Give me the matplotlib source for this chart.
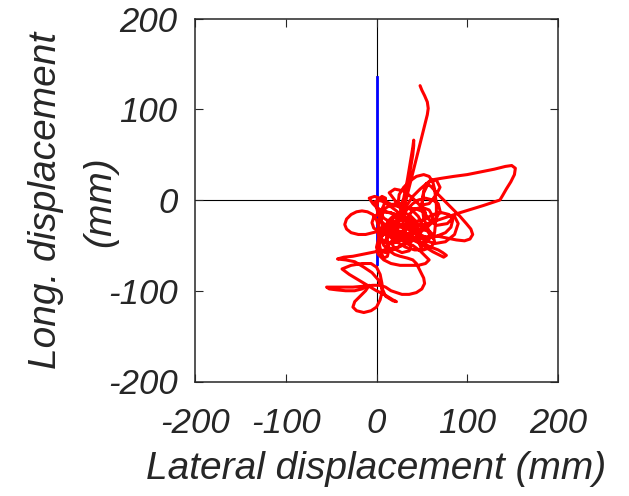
import matplotlib
matplotlib.use("Agg")
import matplotlib.pyplot as plt

# Centre-of-pressure trace as (lateral, longitudinal) samples, mm
trace_mm = [
    # descent from the upper end
    (48, 126), (50, 121), (53, 115), (56, 108), (57, 101), (56, 94), (54, 86), (52, 78),
    (50, 70), (48, 62), (46, 54), (44, 46), (42, 38), (40, 30), (38, 22), (36, 14),
    (34, 6), (32, -2), (29, -10), (25, -18), (20, -25), (14, -30), (8, -33), (2, -34),
    (-3, -31), (-5, -25), (-3, -19), (2, -15), (9, -13), (16, -14), (22, -17),
    (27, -12), (30, -4), (32, 5), (34, 15), (36, 26), (38, 38), (40, 50), (41, 60),
    (41, 66), (40, 58), (38, 46), (36, 34), (34, 22), (32, 12), (30, 2), (27, -6),
    # upper loop
    (24, -2), (25, 6), (30, 14), (37, 21), (44, 26), (52, 28), (58, 26), (62, 20),
    (64, 12), (65, 4), (66, -6), (66, -16), (65, -26), (64, -36), (62, -42),
    # excursion to the right
    (58, -35), (52, -20), (50, -5), (52, 10), (55, 18), (60, 22), (72, 24), (85, 26),
    (100, 28), (115, 31), (130, 34), (142, 37), (149, 38), (153, 35), (152, 28), (148, 20),
    (143, 12), (139, 5), (136, 0), (130, -2), (118, -6), (105, -10), (92, -14), (80, -18),
    (68, -22), (56, -26), (44, -29), (34, -31),
    (30, -28), (28, -20), (32, -8), (40, 4), (48, 12), (55, 18), (60, 15), (68, 6),
    (76, -2), (84, -10), (92, -18), (99, -26), (104, -32), (106, -38), (103, -43), (97, -45),
    (88, -44), (78, -42), (68, -40),
    # central tangle
    (58, -40), (48, -42), (38, -45), (28, -50), (18, -55), (10, -58), (4, -56), (2, -50),
    (4, -42), (10, -35), (18, -30), (28, -27), (38, -26), (48, -28), (56, -32), (62, -38),
    (64, -46), (60, -52), (52, -55), (42, -55), (32, -52), (22, -46), (14, -40), (8, -32),
    (5, -24), (6, -16), (10, -9), (16, -5), (24, -4), (32, -7), (40, -12), (46, -18),
    (50, -26), (50, -34), (46, -40), (38, -43), (28, -43), (18, -40), (10, -36), (3, -30),
    (0, -22),
    # left loop
    (-4, -16), (-10, -13), (-16, -12), (-22, -13), (-28, -16), (-33, -21), (-35, -27), (-33, -32),
    (-28, -36), (-20, -38), (-12, -38), (-4, -36), (4, -34), (12, -33), (20, -34), (28, -37),
    (36, -40), (44, -44), (52, -48), (60, -52), (68, -55), (73, -58), (77, -61), (74, -63),
    (68, -60), (62, -57),
    (54, -52), (46, -46), (40, -40), (36, -32), (34, -24), (36, -16), (42, -10), (50, -8),
    (58, -11), (62, -18), (60, -26), (54, -32), (46, -34), (38, -32), (30, -28), (22, -26),
    (14, -26), (8, -28), (4, -34), (4, -42), (8, -50), (14, -56), (20, -60), (26, -62),
    (34, -64), (40, -66), (44, -70), (48, -78), (52, -86), (53, -92), (50, -98), (44, -102),
    (36, -104), (28, -104), (22, -102),
    # lower-left sweeps
    (16, -100), (10, -96), (4, -94), (-4, -94), (-14, -95), (-26, -96), (-38, -96), (-48, -96),
    (-55, -96), (-52, -98), (-44, -99), (-34, -100), (-24, -100), (-16, -98), (-8, -94),
    (-12, -100), (-18, -106), (-24, -112), (-26, -118), (-22, -122), (-14, -124), (-6, -122), (0, -118),
    (4, -110), (6, -102), (6, -92), (4, -82), (0, -74),
    (-6, -70), (-16, -70), (-28, -72), (-38, -76), (-30, -82), (-20, -88), (-10, -94), (0, -100),
    (10, -105), (18, -110), (22, -112), (18, -111), (10, -106),
    (2, -88), (-5, -80), (-14, -74), (-24, -68), (-34, -66), (-43, -65), (-36, -63), (-26, -62),
    (-16, -60), (-6, -58), (4, -56), (14, -54), (24, -52),
    # back through the middle
    (32, -48), (40, -50), (48, -56), (54, -62), (58, -66), (54, -70), (46, -72), (36, -72),
    (26, -72), (16, -70), (8, -66), (2, -60), (0, -52), (2, -44), (8, -38), (16, -34),
    (24, -34), (32, -36), (40, -40), (46, -46), (50, -54),
    (46, -40), (38, -30), (30, -20), (22, -12), (14, -6), (8, -2), (2, 0), (-2, -2),
    (0, -8), (6, -12), (14, -14), (22, -16), (30, -18), (38, -22), (44, -26), (52, -28),
    (60, -26), (66, -20), (70, -12), (68, -4), (62, 0), (54, 2), (46, 0), (40, -4),
    (34, -10), (28, -18), (24, -26), (22, -34), (24, -42), (30, -46), (38, -46), (44, -42),
    (46, -34), (42, -26), (36, -22), (28, -22), (20, -24), (12, -28), (6, -34), (4, -40),
    (8, -46), (16, -48), (24, -46), (30, -40), (32, -34), (28, -30), (20, -30),
    (12, -30), (6, -24), (2, -16), (0, -8), (2, 0), (6, 4), (10, 2), (8, -6),
    (4, -14), (2, -26), (2, -38), (3, -48), (5, -58), (8, -64), (12, -62), (14, -54),
    (12, -44), (10, -34), (12, -24), (18, -18),
    (28, -20), (40, -24), (52, -22), (62, -16), (72, -14), (80, -16), (84, -22), (82, -30),
    (76, -36), (66, -40), (56, -42), (48, -38),
    # small loops in the core
    (40, -34), (32, -40), (24, -38), (18, -32), (16, -24), (20, -18), (28, -14), (36, -16),
    (42, -22), (44, -30), (40, -38), (34, -42), (26, -44), (18, -46), (12, -50), (10, -44),
    (14, -38), (22, -36), (30, -34), (36, -28), (34, -20), (26, -16), (18, -20), (14, -28),
    (16, -36), (24, -40), (32, -44), (38, -50), (36, -56), (28, -58), (20, -54), (16, -46),
    (20, -42), (30, -42), (40, -44), (48, -48), (56, -46), (60, -40), (56, -34), (48, -32),
    (40, -30), (34, -26),
    # last wander above the core
    (28, -12), (20, 0), (14, 8), (20, 12), (30, 10), (40, 2), (48, -6), (58, -4),
    (66, 6), (70, 14), (66, 22), (58, 20), (52, 8), (50, -6), (56, -20), (66, -28),
    (78, -26), (86, -18), (90, -26), (86, -38), (76, -46), (64, -48), (52, -44), (42, -36),
    (30, -30), (18, -26), (8, -20), (2, -10), (-4, -4), (-8, 2), (-2, 4), (8, 0),
    (18, -6), (30, -8), (44, -10), (54, -14),
]
lat_mm = [p[0] for p in trace_mm]
long_mm = [p[1] for p in trace_mm]

# Reference stance line along the longitudinal axis, mm
ref_lat_mm = [0, 0]
ref_long_mm = [-70, 136]

ticks = [-200, -100, 0, 100, 200]
text_col = "#262626"

plt.rcParams["font.family"] = ["Liberation Sans", "DejaVu Sans"]

fig = plt.figure(figsize=(6.29, 4.96), dpi=100)
ax = fig.add_axes([195 / 629, 1 - 381.5 / 496, 363 / 629, 363 / 496])

ax.axhline(0, color="black", lw=0.8, zorder=1)
ax.axvline(0, color="black", lw=0.8, zorder=1)
ax.plot(ref_lat_mm, ref_long_mm, color="#0000ff", lw=2.0, zorder=2)
ax.plot(lat_mm, long_mm, color="#ff0000", lw=2.2, zorder=3,
        solid_joinstyle="round", solid_capstyle="round")

ax.set_xlim(-200, 200)
ax.set_ylim(-200, 200)
ax.set_xticks(ticks)
ax.set_yticks(ticks)
ax.set_xticklabels([str(t) for t in ticks])
ax.set_yticklabels([str(t) for t in ticks])

for sp in ax.spines.values():
    sp.set_color(text_col)
    sp.set_linewidth(1.1)

ax.tick_params(axis="both", direction="in", length=5.8, width=0.8,
               color=text_col, labelcolor=text_col, labelsize=25,
               top=True, right=True)
ax.tick_params(axis="x", pad=18.5)
ax.tick_params(axis="y", pad=12.5)
for lab in ax.get_xticklabels() + ax.get_yticklabels():
    lab.set_fontstyle("italic")

ax.set_xlabel("Lateral displacement (mm)", fontsize=28, fontstyle="italic",
              color=text_col, labelpad=8)

# two-line y label, each line placed on its own
ylabel_kw = dict(transform=ax.transAxes, rotation=90, ha="center", va="center",
                 fontsize=28, fontstyle="italic", color=text_col)
ax.text(-0.410, 0.5, "Long. displacement", **ylabel_kw)
ax.text(-0.262, 0.495, "(mm)", **ylabel_kw)

fig.savefig("out.png", dpi=100)
